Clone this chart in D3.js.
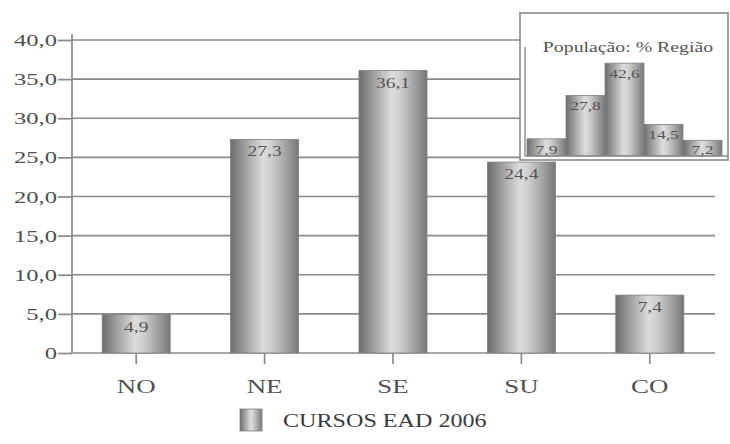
<!DOCTYPE html>
<html>
<head>
<meta charset="utf-8">
<script src="https://cdn.jsdelivr.net/npm/d3@7"></script>
<style>
  html, body { margin: 0; padding: 0; background: #fff; }
  svg { display: block; }
  text { font-family: "Liberation Serif", "DejaVu Serif", serif; }
</style>
</head>
<body>
<svg id="chart" width="730" height="444"></svg>
<script>
// Regions and share of distance-learning courses (%)
const regions = ["NO", "NE", "SE", "SU", "CO"];
const cursosEad = [4.9, 27.3, 36.1, 24.4, 7.4];
// Population share by region (%), shown in the inset
const populacao = [7.9, 27.8, 42.6, 14.5, 7.2];
const yTicks = [0, 5, 10, 15, 20, 25, 30, 35, 40];
const legendLabel = "CURSOS EAD 2006";
const insetTitle = "População: % Região";

const fmt = v => v === 0 ? "0" : v.toFixed(1).replace(".", ",");

const svg = d3.select("#chart");
const plotLeft = 72, plotRight = 714, plotTop = 40, plotBottom = 353;

// Cylinder-like shading used by every bar
const defs = svg.append("defs");
const grad = defs.append("linearGradient").attr("id", "cyl")
  .attr("x1", "0%").attr("x2", "100%").attr("y1", "0%").attr("y2", "0%");
[[0, "#6c6c6c"], [0.18, "#979797"], [0.48, "#dcdcdc"], [0.6, "#cfcfcf"], [0.85, "#9a9a9a"], [1, "#777777"]]
  .forEach(([o, c]) => grad.append("stop").attr("offset", o).attr("stop-color", c));

const x = d3.scaleBand().domain(regions).range([plotLeft, plotRight]).paddingInner(0.47).paddingOuter(0.235);
const y = d3.scaleLinear().domain([0, 40]).range([plotBottom, plotTop]);

// helper: text stretched horizontally around its anchor point
function label(g, txt, px, py, size, k, anchor, fill) {
  return g.append("text")
    .attr("transform", `translate(${px},${py}) scale(${k},1)`)
    .attr("text-anchor", anchor)
    .attr("font-size", size)
    .attr("fill", fill || "#505050")
    .text(txt);
}

// Gridlines
svg.append("g").selectAll("line").data(yTicks).join("line")
  .attr("x1", plotLeft).attr("x2", plotRight + 1)
  .attr("y1", d => y(d)).attr("y2", d => y(d))
  .attr("stroke", "#8a8a8a").attr("stroke-width", 1.7);

// Y axis
const yAxis = svg.append("g").attr("transform", `translate(${plotLeft},0)`)
  .call(d3.axisLeft(y).tickValues(yTicks).tickSize(14).tickSizeOuter(0).tickFormat(fmt));
yAxis.select(".domain").attr("stroke", "#8a8a8a").attr("stroke-width", 1.7)
  .attr("d", `M0,${plotTop - 6}V${plotBottom}`);
yAxis.selectAll(".tick line").attr("stroke", "#8a8a8a").attr("stroke-width", 1.7);
yAxis.selectAll(".tick text").remove();
yTicks.forEach(t => label(svg, fmt(t), plotLeft - 15, y(t) + 6, 17, 1.45, "end"));

// X axis ticks and labels
const xAxis = svg.append("g").attr("transform", `translate(0,${plotBottom})`)
  .call(d3.axisBottom(x).tickSize(11).tickSizeOuter(0));
xAxis.select(".domain").remove();
xAxis.selectAll(".tick line").attr("stroke", "#8a8a8a").attr("stroke-width", 1.7);
xAxis.selectAll(".tick text").remove();
regions.forEach(r => label(svg, r, x(r) + x.bandwidth() / 2, 393, 19.5, 1.38, "middle"));

// Bars
svg.append("g").selectAll("rect").data(regions).join("rect")
  .attr("x", d => x(d))
  .attr("y", (d, i) => y(cursosEad[i]))
  .attr("width", x.bandwidth())
  .attr("height", (d, i) => plotBottom - y(cursosEad[i]))
  .attr("fill", "url(#cyl)")
  .attr("stroke", "#808080").attr("stroke-width", 0.8);

// Value labels inside the bars
regions.forEach((r, i) =>
  label(svg, fmt(cursosEad[i]), x(r) + x.bandwidth() / 2, y(cursosEad[i]) + 17, 15, 1.3, "middle", "#555"));

// Inset: population by region
const inset = svg.append("g");
inset.append("rect").attr("x", 520).attr("y", 13).attr("width", 208).attr("height", 147)
  .attr("fill", "#fff").attr("stroke", "#8a8a8a").attr("stroke-width", 1.6);
const ix = d3.scaleBand().domain(regions).range([527, 722]).padding(0);
const iy = d3.scaleLinear().domain([0, 50]).range([156, 47]);
inset.append("g").selectAll("rect").data(regions).join("rect")
  .attr("x", d => ix(d))
  .attr("y", (d, i) => iy(populacao[i]))
  .attr("width", ix.bandwidth())
  .attr("height", (d, i) => iy(0) - iy(populacao[i]))
  .attr("fill", "url(#cyl)")
  .attr("stroke", "#808080").attr("stroke-width", 0.8);
inset.append("line").attr("x1", 525).attr("x2", 525).attr("y1", iy(50)).attr("y2", iy(0))
  .attr("stroke", "#8a8a8a").attr("stroke-width", 1.4);
inset.append("line").attr("x1", 525).attr("x2", 728).attr("y1", iy(0)).attr("y2", iy(0))
  .attr("stroke", "#8a8a8a").attr("stroke-width", 1.4);
regions.forEach((r, i) =>
  label(inset, fmt(populacao[i]), ix(r) + ix.bandwidth() / 2,
    Math.min(iy(populacao[i]) + 15, 154), 13.5, 1.3, "middle", "#555"));
label(inset, insetTitle, 628, 52, 15, 1.32, "middle", "#555");

// Legend
const lg = svg.append("g");
lg.append("rect").attr("x", 240).attr("y", 409).attr("width", 22).attr("height", 22)
  .attr("fill", "url(#cyl)").attr("stroke", "#808080").attr("stroke-width", 0.8);
label(lg, legendLabel, 283, 427, 19, 1.27, "start", "#3a3a3a");
</script>
</body>
</html>
